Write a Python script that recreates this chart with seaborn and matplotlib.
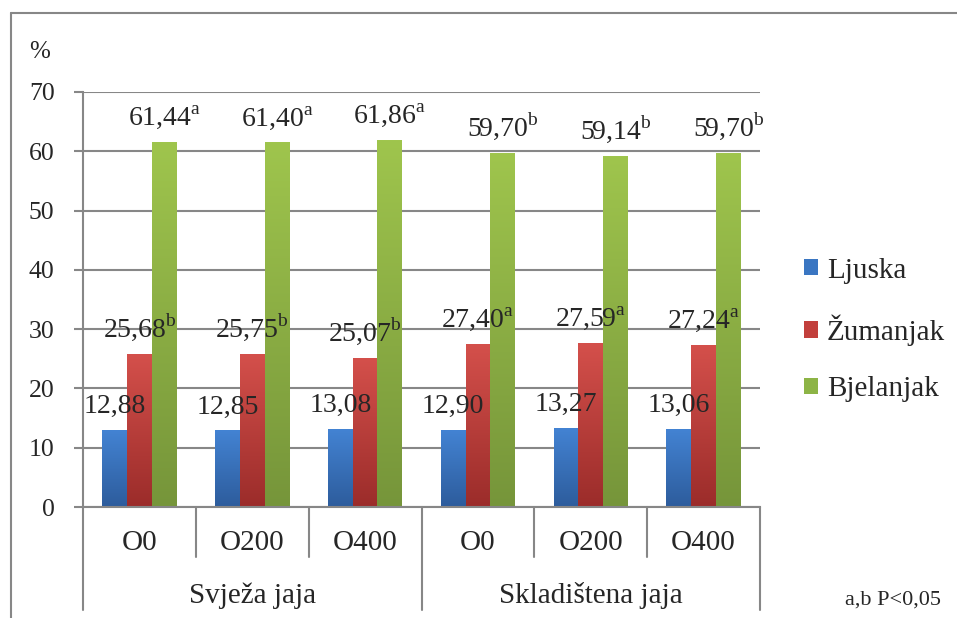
import numpy as np
import pandas as pd
import seaborn as sns
import matplotlib.pyplot as plt
from matplotlib.colors import LinearSegmentedColormap
from matplotlib.patches import Patch
from matplotlib.lines import Line2D

# podaci
skupine = ["Svježa jaja", "Skladištena jaja"]
doze = ["O0", "O200", "O400"]
dijelovi = ["Ljuska", "Žumanjak", "Bjelanjak"]
ljuska = [12.88, 12.85, 13.08, 12.90, 13.27, 13.06]
zumanjak = [25.68, 25.75, 25.07, 27.40, 27.59, 27.24]
bjelanjak = [61.44, 61.40, 61.86, 59.70, 59.14, 59.70]
sig_zumanjak = ["b", "b", "b", "a", "a", "a"]
sig_bjelanjak = ["a", "a", "a", "b", "b", "b"]

kategorije = [s + " " + d for s in skupine for d in doze]
df = pd.DataFrame({
    "kat": kategorije * 3,
    "dio": [d for d in dijelovi for _ in kategorije],
    "udio": ljuska + zumanjak + bjelanjak,
})

sns.set_style("white")
plt.rcParams["font.family"] = ["Liberation Serif", "DejaVu Serif"]
plt.rcParams["mathtext.fontset"] = "custom"
plt.rcParams["mathtext.rm"] = "Liberation Serif"

boje = ["#3a76c2", "#c23f3c", "#8db446"]
gradijenti = [("#2d5c9c", "#4383d3"), ("#9b2c2a", "#d4504b"), ("#76953a", "#9fc54d")]
siva = "#878787"

fig = plt.figure(figsize=(9.57, 6.18), dpi=100)
ax = fig.add_axes([83 / 957, 1 - 507 / 618, 677 / 957, 415 / 618])

sns.barplot(data=df, x="kat", y="udio", hue="dio", order=kategorije,
            hue_order=dijelovi, palette=boje, width=0.66, saturation=1,
            legend=False, ax=ax)

# gradijent na stupcima
for cont, (dno, vrh) in zip(ax.containers, gradijenti):
    cmap = LinearSegmentedColormap.from_list("g", [dno, vrh])
    for bar in cont:
        x0, y0 = bar.get_xy()
        w, h = bar.get_width(), bar.get_height()
        ax.imshow(np.linspace(0, 1, 256).reshape(-1, 1), cmap=cmap, origin="lower",
                  extent=[x0, x0 + w, y0, y0 + h], aspect="auto", zorder=2)
        bar.set_facecolor("none")
        bar.set_edgecolor("none")

ax.set_xlim(-0.5, 5.5)
ax.set_ylim(0, 70)
ax.set_yticks(range(0, 71, 10))
ax.set_axisbelow(True)
ax.yaxis.grid(True, color=siva, lw=1.5)
ax.tick_params(axis="y", labelsize=18.5, length=6.5, width=1.5, color=siva, pad=14, left=True)
ax.set_xticks(range(6), labels=doze * 2)
ax.tick_params(axis="x", labelsize=21, length=0, pad=26)
for lab in ax.get_xticklabels():
    lab.set_va("center")
ax.set_xlabel("")
ax.set_ylabel("")
for s in ["top", "right"]:
    ax.spines[s].set_visible(False)
for s in ["left", "bottom"]:
    ax.spines[s].set_color(siva)
    ax.spines[s].set_linewidth(1.5)

# oznake vrijednosti
oznake = [
    [f"{v:.2f}".replace(".", ",") for v in ljuska],
    [f"{v:.2f}".replace(".", ",") + r"$^{\mathrm{" + s + "}}$" for v, s in zip(zumanjak, sig_zumanjak)],
    [f"{v:.2f}".replace(".", ",") + r"$^{\mathrm{" + s + "}}$" for v, s in zip(bjelanjak, sig_bjelanjak)],
]
for cont, lab in zip(ax.containers, oznake):
    for bar, t in zip(cont, lab):
        ax.annotate(t, (bar.get_x() + bar.get_width() / 2, bar.get_height()),
                    xytext=(0, 12.5), textcoords="offset points",
                    ha="center", va="baseline", fontsize=20, zorder=4)

# dvorazinska os x
for x in [0.5, 1.5, 3.5, 4.5]:
    ax.plot([x, x], [0, -0.1205], transform=ax.get_xaxis_transform(),
            color=siva, lw=1.5, clip_on=False)
for x in [-0.5, 2.5, 5.5]:
    ax.plot([x, x], [0, -0.248], transform=ax.get_xaxis_transform(),
            color=siva, lw=1.5, clip_on=False)
for i, s in enumerate(skupine):
    ax.text(1 + 3 * i, -0.213, s, transform=ax.get_xaxis_transform(),
            ha="center", va="center", fontsize=21)

# legenda
ruckice = [Patch(facecolor=c, edgecolor="none") for c in boje]
fig.legend(ruckice, dijelovi, loc="center left", bbox_to_anchor=(804 / 957, 1 - 330 / 618),
           frameon=False, fontsize=21, handlelength=0.48, handleheight=0.48,
           handletextpad=0.3, labelspacing=1.05, borderpad=0, borderaxespad=0)

fig.text(40 / 957, 1 - 52 / 618, "%", fontsize=18, ha="center", va="center")
fig.text(893 / 957, 1 - 600 / 618, "a,b P<0,05", fontsize=16, ha="center", va="center")

# okvir grafikona
fig.add_artist(Line2D([10.5 / 957, 10.5 / 957], [0, 1 - 12.5 / 618], color=siva, lw=1.5))
fig.add_artist(Line2D([10.5 / 957, 1], [1 - 12.5 / 618, 1 - 12.5 / 618], color=siva, lw=1.5))

plt.savefig("out.png", dpi=100)
